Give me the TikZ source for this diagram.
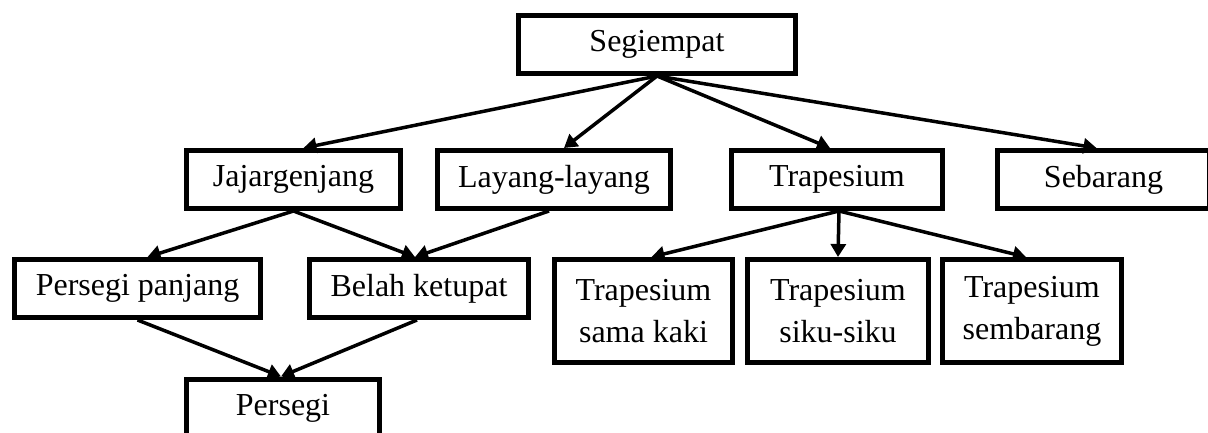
\documentclass[tikz,border=0pt]{standalone}
\usepackage{fontspec}
\setmainfont{Liberation Serif}
\usetikzlibrary{arrows.meta}
\begin{document}
\begin{tikzpicture}[x=1pt,y=-1pt,
  box/.style={draw,line width=5pt,fill=white,inner sep=0pt,align=center,
    font=\fontsize{32}{42}\selectfont,minimum height=58pt},
  tall/.style={box,minimum height=103pt},
  arr/.style={line width=3.5pt,-{Triangle[length=13pt,width=15pt]}}]
\useasboundingbox (0,0) rectangle (1208,433);
\node[box,minimum width=277pt] (seg) at (657,44.5) {Segiempat};
\node[box,minimum width=214pt] (jaj) at (293.5,179.5) {Jajargenjang};
\node[box,minimum width=233pt] (lay) at (554,179.5) {Layang-layang};
\node[box,minimum width=211pt] (tra) at (837,179.5) {Trapesium};
\node[box,minimum width=212pt] (seb) at (1103.5,179.5) {Sebarang};
\node[box,minimum width=246pt] (pp) at (137.5,288.5) {Persegi panjang};
\node[box,minimum width=219pt] (bk) at (419,288.5) {Belah ketupat};
\node[tall,minimum width=178pt] (tsk) at (643.5,311) {Trapesium\\sama kaki};
\node[tall,minimum width=181pt] (tss) at (838,311) {Trapesium\\siku-siku};
\node[tall,minimum width=179pt] (tsb) at (1032,311) {Trapesium\\sembarang};
\node[box,minimum width=193pt] (per) at (283,408) {Persegi};
\draw[arr] (seg.south) -- ([xshift=10pt]jaj.north);
\draw[arr] (seg.south) -- ([xshift=10pt]lay.north);
\draw[arr] (seg.south) -- ([xshift=-7pt]tra.north);
\draw[arr] (seg.south) -- ([xshift=-7pt]seb.north);
\draw[arr] (jaj.south) -- ([xshift=10pt]pp.north);
\draw[arr] (jaj.south) -- ([xshift=-4pt]bk.north);
\draw[arr] ([xshift=-5pt]lay.south) -- ([xshift=-4pt]bk.north);
\draw[arr] (pp.south) -- ([xshift=-2pt]per.north);
\draw[arr] ([xshift=-2pt]bk.south) -- ([xshift=-2pt]per.north);
\draw[arr] ([xshift=2pt]tra.south) -- ([xshift=8pt]tsk.north);
\draw[arr] ([xshift=2pt]tra.south) -- (tss.north);
\draw[arr] ([xshift=2pt]tra.south) -- ([xshift=-6pt]tsb.north);
\end{tikzpicture}
\end{document}
